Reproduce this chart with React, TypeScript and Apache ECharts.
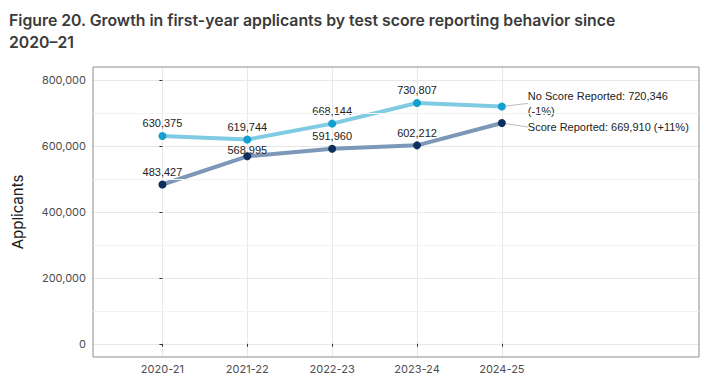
import React, { useEffect, useRef } from 'react';
import * as echarts from 'echarts';

const categories = ['2020-21', '2021-22', '2022-23', '2023-24', '2024-25'];
const noScoreValues = [630375, 619744, 668144, 730807, 720346];
const scoreValues = [483427, 568995, 591960, 602212, 669910];
const noScoreName = 'No Score Reported';
const scoreName = 'Score Reported';
const noScoreChange = '-1%';
const scoreChange = '+11%';
const yMajorTicks = [0, 200000, 400000, 600000, 800000];
const yMinorTicks = [100000, 300000, 500000, 700000];
const yMin = -40000;
const yMax = 840000;
const xMin = -0.818;
const xMax = 6.323;
const titleText = 'Figure 20. Growth in first-year applicants by test score reporting behavior since\n2020\u201321';

const fmt = (v: number) => v.toLocaleString('en-US');
const xTickValues = categories.map((_, i) => i);

function buildSeries(
  name: string,
  values: number[],
  lineColor: string,
  pointColor: string,
  endText: string,
  dy: number,
  repelShift: Record<number, number>
) {
  const last = values.length - 1;
  const data = values.map((v, i) =>
    i === last
      ? {
          value: [i, v],
          label: { show: true, formatter: endText },
          labelLine: { show: true, lineStyle: { color: '#bdbdbd', width: 1 } },
        }
      : [i, v]
  );
  return {
    name,
    type: 'line',
    z: 3,
    data,
    symbol: 'circle',
    symbolSize: 8,
    lineStyle: { color: lineColor, width: 4 },
    itemStyle: { color: pointColor, borderWidth: 0 },
    label: {
      show: true,
      position: 'top',
      distance: 2,
      fontFamily: '"Liberation Sans", Arial, sans-serif',
      fontSize: 11,
      lineHeight: 15.5,
      color: '#222222',
      formatter: (p: any) => fmt(p.value[1]),
    },
    labelLayout: (p: any) =>
      p.dataIndex === last
        ? {
            x: p.rect.x + p.rect.width + 22,
            y: p.rect.y + p.rect.height / 2 + dy,
            align: 'left',
            verticalAlign: 'middle',
          }
        : {
            x: p.rect.x + p.rect.width / 2,
            y: p.rect.y - 1 + (repelShift[p.dataIndex] ?? 0),
            align: 'center',
            verticalAlign: 'bottom',
          },
  };
}

export default function App() {
  const ref = useRef<HTMLDivElement>(null);
  useEffect(() => {
    if (!ref.current) return;
    const chart = echarts.init(ref.current, undefined, { renderer: 'svg' });
    const axisFont = 'Inter, "Noto Sans", sans-serif';
    chart.setOption({
      animation: false,
      backgroundColor: '#ffffff',
      title: {
        text: titleText,
        left: 4,
        top: 4,
        textStyle: {
          fontFamily: axisFont,
          fontSize: 15.8,
          fontWeight: 600,
          color: '#3a3a3a',
          lineHeight: 22,
        },
      },
      grid: {
        left: 93,
        right: 12,
        top: 67,
        bottom: 28,
        show: true,
        borderColor: '#8c8c8c',
        borderWidth: 1,
        backgroundColor: 'transparent',
        z: 4,
      },
      xAxis: {
        type: 'value',
        min: xMin,
        max: xMax,
        axisLine: { show: false },
        axisTick: {
          show: true,
          customValues: xTickValues,
          length: 3,
          lineStyle: { color: '#333333' },
        },
        axisLabel: {
          customValues: xTickValues,
          formatter: (v: number) => categories[Math.round(v)] ?? '',
          fontFamily: axisFont,
          fontSize: 11,
          color: '#4d4d4d',
          margin: 6,
        },
        splitLine: { show: true, lineStyle: { color: '#e8e8e8', width: 1 } },
      },
      yAxis: {
        type: 'value',
        min: yMin,
        max: yMax,
        name: 'Applicants',
        nameLocation: 'middle',
        nameGap: 68,
        nameTextStyle: { fontFamily: axisFont, fontSize: 15, color: '#1a1a1a' },
        axisLine: { show: false },
        axisTick: {
          show: true,
          customValues: yMajorTicks,
          length: 3,
          lineStyle: { color: '#333333' },
        },
        axisLabel: {
          customValues: yMajorTicks,
          formatter: (v: number) => fmt(v),
          fontFamily: axisFont,
          fontSize: 11,
          color: '#4d4d4d',
          margin: 7,
        },
        splitLine: { show: true, lineStyle: { color: '#e8e8e8', width: 1 } },
      },
      series: [
        {
          name: 'minor-grid',
          type: 'line',
          z: 1,
          data: [],
          silent: true,
          markLine: {
            silent: true,
            symbol: 'none',
            label: { show: false },
            lineStyle: { color: '#f2f2f2', width: 1, type: 'solid' },
            data: yMinorTicks.map((v) => ({ yAxis: v })),
          },
        },
        buildSeries(
          noScoreName,
          noScoreValues,
          '#7ecbe3',
          '#139fcf',
          `${noScoreName}: ${fmt(noScoreValues[noScoreValues.length - 1])}\n(${noScoreChange})`,
          -3,
          {}
        ),
        buildSeries(
          scoreName,
          scoreValues,
          '#7c97b8',
          '#0d2f5e',
          `${scoreName}: ${fmt(scoreValues[scoreValues.length - 1])} (${scoreChange})`,
          4,
          { 1: 6 }
        ),
      ],
    });
    return () => chart.dispose();
  }, []);
  return (
    <div
      ref={ref}
      style={{ position: 'absolute', left: 0, top: 0, width: 711, height: 385 }}
    />
  );
}
